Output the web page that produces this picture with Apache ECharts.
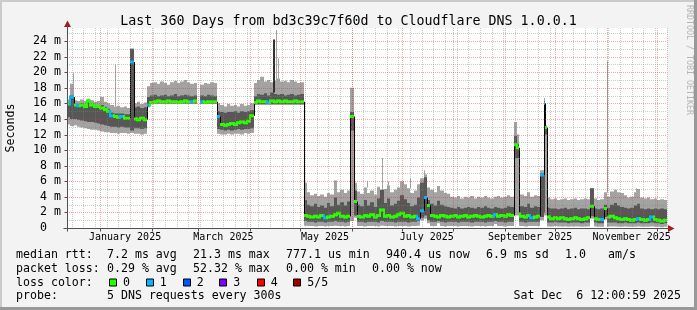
<!DOCTYPE html>
<html><head><meta charset="utf-8">
<script src="https://cdn.jsdelivr.net/npm/echarts@6/dist/echarts.min.js"></script>
<style>html,body{margin:0;padding:0;background:#f3f3f3}#c{width:697px;height:310px}</style>
</head><body><div id="c"></div>
<script>
// ---------------- DATA ----------------
const START_UTC = Date.UTC(2024, 11, 12, 4, 0, 0);   // left edge of graph
const SPAN_DAYS = 360;
const BIN_DAYS = 2;                                   // each value below covers 2 days
const yMax = 25.67;

const lightTop = [
 16.5,18.5,16.4,16.3,16.5,16.3,16.6,16.4,16.2,16.3,16.8,16.2,16.0,15.8,15.6,15.7,15.5,15.6,15.4,
 23.0,
 16.0,16.2,15.9,16.1,
 18.2,18.6,18.7,18.5,18.8,18.6,18.4,18.7,18.9,18.6,18.8,19.0,18.7,18.5,18.6,
 null,
 18.4,18.6,18.5,18.7,18.6,
 16.0,15.8,15.6,15.9,15.7,15.8,15.6,15.9,15.7,15.8,16.0,
 18.6,19.0,19.4,18.8,19.0,18.7,18.9,19.2,18.8,18.9,18.7,19.0,18.8,18.6,18.7,
 5.8,4.6,4.2,4.4,4.1,4.3,4.0,4.5,4.3,6.1,4.6,4.9,4.5,4.8,
 18.0,5.8,
 4.7,4.4,5.2,4.5,4.8,4.3,5.3,4.6,5.0,5.5,4.6,4.9,5.2,6.0,5.6,5.1,4.5,4.8,5.6,6.4,
 6.9,5.2,4.9,4.6,5.4,4.8,4.5,4.4,4.0,3.9,4.1,3.8,4.0,3.9,4.1,3.8,4.0,3.9,4.1,3.9,
 3.8,4.0,4.1,3.9,4.0,4.2,4.0,
 13.6,
 4.5,4.3,4.1,4.6,4.0,4.2,4.1,
 7.4,16.7,
 3.9,3.7,3.8,3.6,3.7,3.8,3.6,3.7,3.8,3.6,3.7,3.8,3.7,
 5.1,
 3.8,3.6,3.7,
 4.6,
 4.0,4.7,4.9,4.6,4.5,4.2,3.9,4.0,4.6,5.0,3.9,3.8,3.9,3.7,3.8,3.6,3.7,3.6
];
const darkTop = [
 16.1,17.0,15.9,15.9,16.0,15.8,16.2,15.9,15.7,15.8,15.8,15.5,15.3,14.8,14.7,14.7,14.7,14.6,14.6,
 23.0,
 15.5,15.6,15.4,15.5,
 16.8,17.0,17.1,16.9,17.0,17.1,16.9,17.0,17.2,16.9,17.0,17.1,17.0,16.9,17.0,
 null,
 17.0,16.9,17.1,17.0,16.9,
 15.0,14.9,14.8,14.9,14.9,15.0,14.8,15.0,14.9,15.0,15.1,
 16.9,17.2,17.1,17.3,17.0,17.4,17.2,17.1,17.2,17.0,17.1,17.2,17.0,17.1,17.2,
 3.6,3.0,2.8,3.1,2.7,2.9,2.6,3.2,2.8,3.9,3.0,3.3,2.9,3.4,
 14.9,4.8,
 3.0,2.8,3.6,2.9,3.3,2.7,3.8,4.9,3.2,3.8,2.9,3.1,3.5,4.2,3.7,3.2,2.8,3.0,3.9,5.8,
 6.5,3.6,3.1,2.9,3.5,3.0,2.8,2.7,2.6,2.5,2.7,2.5,2.6,2.7,2.6,2.5,2.7,2.6,2.8,2.6,
 2.5,2.7,2.6,2.5,2.6,2.8,2.7,
 11.8,
 3.0,2.8,2.7,3.1,2.6,2.8,2.7,
 7.0,16.3,
 2.6,2.5,2.5,2.4,2.5,2.6,2.4,2.5,2.6,2.4,2.5,2.5,2.4,
 5.1,
 2.5,2.4,2.5,
 3.0,
 2.6,3.0,3.2,2.9,2.7,2.6,2.5,2.6,2.9,3.1,2.5,2.4,2.5,2.4,2.5,2.4,2.5,2.4
];
const medianRtt = [
 15.9,16.8,15.8,15.7,15.8,15.6,16.3,15.8,15.6,15.6,15.4,15.2,15.0,14.4,14.3,14.2,14.3,14.1,14.1,
 21.3,
 14.0,13.9,14.1,13.9,
 15.8,16.1,16.2,16.3,16.2,16.2,16.3,16.2,16.2,16.1,16.2,16.3,16.2,16.2,16.3,
 null,
 16.2,16.1,16.2,16.2,16.2,
 14.3,13.3,13.2,13.3,13.4,13.3,13.5,13.6,13.5,13.7,14.4,
 16.1,16.3,16.2,16.2,16.1,16.3,16.2,16.3,16.2,16.3,16.2,16.2,16.3,16.2,16.2,
 1.6,1.5,1.4,1.5,1.4,1.6,1.3,1.4,1.5,1.7,1.9,1.5,1.4,1.5,
 14.3,3.4,
 1.5,1.4,1.6,1.5,1.7,1.4,1.6,2.3,1.5,1.6,1.4,1.5,1.7,1.9,1.5,1.6,1.4,1.5,1.2,2.2,
 3.9,2.9,1.6,1.5,1.4,1.6,1.5,1.4,1.5,1.6,1.4,1.5,1.6,1.4,1.5,1.6,1.5,1.4,1.5,1.6,
 1.5,1.7,1.5,1.6,1.5,1.7,1.6,
 10.7,
 1.8,1.5,1.4,1.6,1.3,1.4,1.5,
 6.8,16.0,
 1.4,1.2,1.3,1.2,1.3,1.2,1.1,1.2,1.3,1.2,1.1,1.2,1.3,
 2.8,
 1.2,1.1,1.1,
 2.5,
 1.4,1.5,1.3,1.2,1.1,1.2,1.1,1.0,1.1,1.2,1.1,1.0,1.1,1.4,1.1,1.0,0.9,1.0
];
const darkBottom = [
 14.2,14.0,14.0,13.9,13.8,13.7,13.6,13.6,13.5,13.4,13.3,13.2,13.1,13.0,13.0,12.9,13.0,12.9,12.9,
 12.5,
 12.8,12.8,12.7,12.8,
 15.6,16.0,16.0,16.0,16.0,16.0,16.0,16.0,16.0,16.0,16.0,16.0,16.0,16.0,16.0,
 null,
 16.0,16.0,16.0,16.0,16.0,
 12.7,12.6,12.5,12.6,12.5,12.6,12.7,12.6,12.7,12.7,12.8,
 15.9,15.9,15.9,15.9,15.9,15.9,15.9,15.9,15.9,15.9,15.9,15.9,15.9,15.9,15.9,
 0.9,0.8,0.8,0.7,0.8,0.8,0.7,0.8,0.8,0.9,0.8,0.8,0.7,0.8,
 12.5,1.6,
 0.8,0.8,0.7,0.8,0.8,0.8,0.7,0.9,0.8,0.8,0.8,0.7,0.8,0.8,0.8,0.7,0.8,0.8,0.9,1.3,
 1.6,1.0,0.8,0.8,0.9,0.8,0.7,0.8,0.8,0.8,0.7,0.8,0.8,0.8,0.7,0.8,0.8,0.8,0.7,0.8,
 0.8,0.9,0.8,0.8,0.7,0.8,0.8,
 9.0,
 0.8,0.8,0.7,0.8,0.8,0.8,0.8,
 1.4,2.0,
 0.7,0.7,0.8,0.7,0.7,0.7,0.6,0.7,0.7,0.7,0.6,0.7,0.7,
 1.5,
 0.7,0.6,0.6,
 1.4,
 0.7,0.7,0.7,0.6,0.6,0.7,0.6,0.6,0.6,0.7,0.6,0.6,0.6,0.7,0.6,0.6,0.5,0.6
];
const lightBottom = [
 13.3,13.1,13.2,13.0,12.9,12.8,12.7,12.6,12.6,12.5,12.4,12.3,12.3,12.2,12.2,12.1,12.2,12.2,12.1,
 12.2,
 12.1,12.1,12.0,12.1,
 15.5,15.9,15.9,15.9,15.9,15.9,15.9,15.9,15.9,15.9,15.9,15.9,15.9,15.9,15.9,
 null,
 15.9,15.9,15.9,15.9,15.9,
 12.1,12.0,12.0,12.1,12.0,12.1,12.1,12.0,12.2,12.1,12.2,
 15.8,15.8,15.8,15.8,15.8,15.8,15.8,15.8,15.8,15.8,15.8,15.8,15.8,15.8,15.8,
 0.3,0.25,0.25,0.2,0.25,0.25,0.2,0.25,0.25,0.3,0.25,0.25,0.2,0.25,
 0.9,1.3,
 0.25,0.25,0.2,0.25,0.25,0.25,0.2,0.3,0.25,0.25,0.25,0.2,0.25,0.25,0.25,0.2,0.25,0.25,0.3,1.0,
 1.2,0.6,0.25,0.25,0.6,0.25,0.2,0.25,0.25,0.25,0.2,0.25,0.25,0.25,0.2,0.25,0.25,0.25,0.2,0.25,
 0.25,0.5,0.25,0.25,0.2,0.25,0.25,
 1.6,
 0.3,0.25,0.2,0.25,0.25,0.25,0.25,
 1.0,1.6,
 0.2,0.2,0.25,0.2,0.2,0.2,0.15,0.2,0.2,0.2,0.15,0.2,0.2,
 1.2,
 0.2,0.15,0.15,
 1.1,
 0.2,0.2,0.2,0.15,0.15,0.2,0.15,0.15,0.15,0.2,0.15,0.15,0.15,0.2,0.15,0.15,0.1,0.15
];
// bins whose median is drawn with the "1 lost" colour
const lossOneBins = [1,3,13,16,19,24,37,40,45,60,77,105,106,107,128,139,142,143,160,171,175];

// single-day readings (day index from left edge)
const eventDays       = [270, 287];
const eventLightTop   = [12.0, 13.2];
const eventDarkTop    = [10.8, 13.0];
const eventMedian     = [10.3, 12.9];
const eventDarkBottom = [9.0, 12.0];
const eventLightBottom= [1.6, 1.6];
const eventLoss       = [0, 0];

// thin smoke spikes (day, top value in ms)
const lightSpikeDays = [3.3, 28.8, 125.4, 126.6, 179.8, 189.0, 192.6, 205.8, 213.9, 323.8, 341.4];
const lightSpikeTops = [19.9, 21.0, 25.4, 21.8, 6.0, 9.0, 6.0, 6.4, 7.4, 21.4, 5.1];
const darkSpikeDays = [123.3];
const darkSpikeTops = [24.2];

const monthLabelNames = ['January 2025','March 2025','May 2025','July 2025','September 2025','November 2025'];
const monthLabelMonths = [0, 2, 4, 6, 8, 10];
const lossLabels = ['0','1','2','3','4','5/5'];
const lossColors = ['#26ff00','#00b8ff','#0059ff','#7e00ff','#ff0000','#a10000'];

const titleText = 'Last 360 Days from bd3c39c7f60d to Cloudflare DNS 1.0.0.1';
const legendRows = [
  ['median rtt:', '7.2 ms avg', '21.3 ms max', '777.1 us min', '940.4 us now', '6.9 ms sd', '1.0', 'am/s'],
  ['packet loss:', '0.29 % avg', '52.32 % max', '0.00 % min', '0.00 % now']
];
const probeLabel = 'probe:';
const probeText = '5 DNS requests every 300s';
const stampText = 'Sat Dec  6 12:00:59 2025';

// ---------------- BUILD ----------------
const DAY = 86400000;
const toDay = t => (t - START_UTC) / DAY;
const days = [];
for (let d = 0; d < SPAN_DAYS; d++) {
  const b = Math.floor(d / BIN_DAYS);
  if (medianRtt[b] == null) { days.push(null); continue; }
  days.push({lt: lightTop[b], dt: darkTop[b], md: medianRtt[b], db: darkBottom[b], lb: lightBottom[b],
             loss: lossOneBins.indexOf(b) >= 0 ? 1 : 0});
}
eventDays.forEach((d, i) => {
  days[d] = {lt: eventLightTop[i], dt: eventDarkTop[i], md: eventMedian[i], db: eventDarkBottom[i],
             lb: eventLightBottom[i], loss: eventLoss[i]};
});
const smoke = [];
days.forEach((o, d) => {
  if (!o) return;
  const p = d > 0 ? days[d - 1] : null;
  smoke.push([d, o.lt, o.dt, o.md, o.db, o.lb, o.loss, p ? p.md : -1]);
});
const baseAt = (day, key) => { const o = days[Math.floor(day)]; return o ? o[key] : 0; };
const lightSpikes = lightSpikeDays.map((d, i) => [d, lightSpikeTops[i], baseAt(d, 'lt')]);
const darkSpikes = darkSpikeDays.map((d, i) => [d, darkSpikeTops[i], baseAt(d, 'dt')]);

const monthDays = [];
for (let m = 0; m < 13; m++) {
  const v = toDay(Date.UTC(2024, 11 + m, 1));
  if (v > 0 && v < SPAN_DAYS) monthDays.push(v);
}
const weekDays = [];
for (let t = Date.UTC(2024, 11, 15); toDay(t) < SPAN_DAYS; t += 7 * DAY) weekDays.push(toDay(t));
const labelDays = monthLabelMonths.map(m => toDay(Date.UTC(2025, m, 16)));
const hMinor = [], hMajor = [];
for (let v = 1; v < yMax; v++) (v % 2 ? hMinor : hMajor).push(v);

const LIGHT = '#a3a3a3', DARK = '#575757';
const MINOR = 'rgba(130,130,130,0.42)', MAJOR = 'rgba(225,50,50,0.42)';
const MONO = 'DejaVu Sans Mono';

function smokeItem(params, api) {
  const r = smoke[params.dataIndex];
  const d = r[0], lt = r[1], dt = r[2], md = r[3], db = r[4], lb = r[5], loss = r[6], pm = r[7];
  const xa = Math.round(api.coord([d, 0])[0]);
  const xb = Math.round(api.coord([d + 1, 0])[0]);
  const Y = v => api.coord([d, v])[1];
  const w = xb - xa;
  const col = lossColors[loss];
  const ch = [
    {type: 'rect', shape: {x: xa, y: Y(lt), width: w, height: Y(lb) - Y(lt)}, style: {fill: LIGHT}},
    {type: 'rect', shape: {x: xa, y: Y(dt), width: w, height: Y(db) - Y(dt)}, style: {fill: DARK}}
  ];
  if (pm >= 0 && pm !== md) {
    if (Math.abs(pm - md) >= 1.0) {
      ch.push({type: 'line', shape: {x1: xa + 0.5, y1: Y(pm), x2: xa + 0.5, y2: Y(md)}, style: {stroke: '#000', lineWidth: 1}});
    } else {
      ch.push({type: 'rect', shape: {x: xa - 1, y: Math.min(Y(pm), Y(md)) - 1.5, width: 2, height: Math.abs(Y(pm) - Y(md)) + 3}, style: {fill: col}});
    }
  }
  ch.push({type: 'rect', shape: {x: xa, y: Y(md) - 1.5, width: w, height: 3}, style: {fill: col}});
  return {type: 'group', children: ch};
}
function spikeItem(list, color, width) {
  return function (params, api) {
    const r = list[params.dataIndex];
    const x = Math.round(api.coord([r[0], 0])[0]);
    const y1 = api.coord([r[0], r[1]])[1], y2 = api.coord([r[0], r[2]])[1];
    return {type: 'rect', shape: {x: x, y: y1, width: width, height: y2 - y1}, style: {fill: color}};
  };
}
function hLine(list, color) {
  return function (params, api) {
    const cs = params.coordSys;
    const y = Math.round(api.coord([0, list[params.dataIndex]])[1]) + 0.5;
    return {type: 'line', shape: {x1: cs.x, y1: y, x2: cs.x + cs.width, y2: y}, style: {stroke: color, lineWidth: 1, lineDash: [1, 1]}};
  };
}
function vLine(list, color) {
  return function (params, api) {
    const cs = params.coordSys;
    const x = Math.round(api.coord([list[params.dataIndex], 0])[0]) + 0.5;
    return {type: 'line', shape: {x1: x, y1: cs.y, x2: x, y2: cs.y + cs.height}, style: {stroke: color, lineWidth: 1, lineDash: [1, 1]}};
  };
}
function frameItem(params, api) {
  const cs = params.coordSys;
  const x0 = cs.x + 0.5, yb = cs.y + cs.height + 0.5, xr = cs.x + cs.width;
  const ch = [];
  ch.push({type: 'line', shape: {x1: x0, y1: yb + 3, x2: x0, y2: cs.y - 5}, style: {stroke: '#505050', lineWidth: 1}});
  ch.push({type: 'line', shape: {x1: x0 - 4, y1: yb, x2: xr + 1, y2: yb}, style: {stroke: '#505050', lineWidth: 1}});
  ch.push({type: 'polygon', shape: {points: [[x0 - 3.5, cs.y - 1], [x0 + 3.5, cs.y - 1], [x0, cs.y - 7.5]]}, style: {fill: '#9e2020'}});
  ch.push({type: 'polygon', shape: {points: [[xr + 1, yb - 3.5], [xr + 1, yb + 3.5], [xr + 7.5, yb]]}, style: {fill: '#9e2020'}});
  hMajor.concat([0]).forEach(v => {
    const y = Math.round(api.coord([0, v])[1]) + 0.5;
    ch.push({type: 'line', shape: {x1: x0 - 3, y1: y, x2: x0, y2: y}, style: {stroke: '#505050', lineWidth: 1}});
  });
  monthDays.forEach(v => {
    const x = Math.round(api.coord([v, 0])[0]) + 0.5;
    ch.push({type: 'line', shape: {x1: x, y1: yb, x2: x, y2: yb + 3}, style: {stroke: '#505050', lineWidth: 1}});
  });
  return {type: 'group', children: ch};
}

const legendX = [[16, 107, 193, 286, 386, 486, 565, 608], [16, 107, 193, 286, 372]];
const rowY = [255, 268.5, 282.5, 296];
const graphics = [
  {type: 'rect', shape: {x: 0, y: 0, width: 697, height: 2}, style: {fill: '#cbcbcb'}},
  {type: 'rect', shape: {x: 0, y: 0, width: 2, height: 310}, style: {fill: '#cbcbcb'}},
  {type: 'rect', shape: {x: 0, y: 307, width: 697, height: 3}, style: {fill: '#999999'}},
  {type: 'rect', shape: {x: 694, y: 0, width: 3, height: 310}, style: {fill: '#999999'}},
  {type: 'text', x: 689, y: 60, rotation: -Math.PI / 2,
   style: {text: 'RRDTOOL / TOBI OETIKER', font: '8.3px ' + MONO, fill: '#b5b5b5', align: 'center', verticalAlign: 'middle'}}
];
legendRows.forEach((row, r) => row.forEach((t, i) => graphics.push(
  {type: 'text', x: legendX[r][i], y: rowY[r], style: {text: t, font: '11.6px ' + MONO, fill: '#000', verticalAlign: 'middle'}})));
graphics.push({type: 'text', x: 16, y: rowY[2], style: {text: 'loss color:', font: '11.6px ' + MONO, fill: '#000', verticalAlign: 'middle'}});
const boxX = [109, 145.7, 182.7, 219.3, 256.7, 293.3];
lossLabels.forEach((t, i) => {
  graphics.push({type: 'rect', shape: {x: Math.round(boxX[i]) + 0.5, y: rowY[2] - 3.5, width: 7, height: 7}, style: {fill: lossColors[i], stroke: '#000', lineWidth: 1}});
  graphics.push({type: 'text', x: boxX[i] + 14, y: rowY[2], style: {text: t, font: '11.6px ' + MONO, fill: '#000', verticalAlign: 'middle'}});
});
graphics.push({type: 'text', x: 16, y: rowY[3], style: {text: probeLabel, font: '11.6px ' + MONO, fill: '#000', verticalAlign: 'middle'}});
graphics.push({type: 'text', x: 107, y: rowY[3], style: {text: probeText, font: '11.6px ' + MONO, fill: '#000', verticalAlign: 'middle'}});
graphics.push({type: 'text', x: 681, y: rowY[3], style: {text: stampText, font: '11.6px ' + MONO, fill: '#000', verticalAlign: 'middle', align: 'right'}});

const chart = echarts.init(document.getElementById('c'), null, {renderer: 'canvas'});
chart.setOption({
  animation: false,
  backgroundColor: '#f3f3f3',
  title: {text: titleText, left: 'center', top: 10,
          textStyle: {fontFamily: MONO, fontSize: 13.3, fontWeight: 'normal', color: '#000'}},
  grid: {left: 67, top: 28, width: 600, height: 200, show: true, backgroundColor: '#ffffff', borderWidth: 0,
         containLabel: false, outerBoundsMode: 'none'},
  xAxis: {type: 'value', min: 0, max: SPAN_DAYS,
          axisLine: {show: false}, axisTick: {show: false}, splitLine: {show: false},
          axisLabel: {customValues: labelDays, margin: 4, fontFamily: MONO, fontSize: 10, color: '#000',
                      formatter: v => { let best = 0; labelDays.forEach((l, i) => { if (Math.abs(l - v) < Math.abs(labelDays[best] - v)) best = i; }); return monthLabelNames[best]; }}},
  yAxis: {type: 'value', min: 0, max: yMax, interval: 2,
          name: 'Seconds', nameLocation: 'middle', nameGap: 50.5, nameRotate: 90,
          nameTextStyle: {fontFamily: MONO, fontSize: 11.6, color: '#000'},
          axisLine: {show: false}, axisTick: {show: false}, splitLine: {show: false},
          axisLabel: {margin: 6, showMaxLabel: false, fontFamily: MONO, fontSize: 11.6, color: '#000',
                      formatter: v => (v % 2 !== 0 ? '' : (v === 0 ? '0  ' : v + ' m'))}},
  graphic: graphics,
  series: [
    {type: 'custom', name: 'lightSpikes', z: 1, silent: true, data: lightSpikes.map(r => [r[0], r[1]]), renderItem: spikeItem(lightSpikes, LIGHT, 1)},
    {type: 'custom', name: 'smoke', z: 2, silent: true, data: smoke.map(r => [r[0], r[3]]), renderItem: smokeItem},
    {type: 'custom', name: 'darkSpikes', z: 3, silent: true, data: darkSpikes.map(r => [r[0], r[1]]), renderItem: spikeItem(darkSpikes, '#303030', 2)},
    {type: 'custom', name: 'minorH', z: 5, silent: true, data: hMinor.map(v => [0, v]), renderItem: hLine(hMinor, MINOR)},
    {type: 'custom', name: 'minorV', z: 5, silent: true, data: weekDays.map(v => [v, 0]), renderItem: vLine(weekDays, MINOR)},
    {type: 'custom', name: 'majorH', z: 6, silent: true, data: hMajor.map(v => [0, v]), renderItem: hLine(hMajor, MAJOR)},
    {type: 'custom', name: 'majorV', z: 6, silent: true, data: monthDays.map(v => [v, 0]), renderItem: vLine(monthDays, MAJOR)},
    {type: 'custom', name: 'frame', z: 7, silent: true, data: [[0, 0]], renderItem: frameItem}
  ]
});
</script>
</body></html>
